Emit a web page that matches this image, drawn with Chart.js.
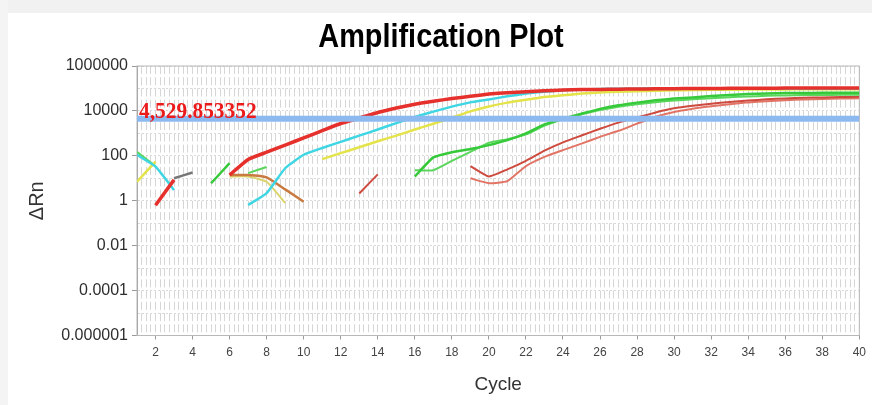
<!DOCTYPE html>
<html>
<head>
<meta charset="utf-8">
<title>Amplification Plot</title>
<script src="https://cdn.jsdelivr.net/npm/chart.js@4/dist/chart.umd.min.js"></script>
<style>
  html, body { margin: 0; padding: 0; background: #ffffff; }
  canvas { display: block; }
</style>
</head>
<body>
<canvas id="plot" width="872" height="405"></canvas>
<script>
// Cycle numbers (x) and ΔRn readings per well (null = no positive reading, left as a gap)
const cycles = [1,2,3,4,5,6,7,8,9,10,11,12,13,14,15,16,17,18,19,20,
                21,22,23,24,25,26,27,28,29,30,31,32,33,34,35,36,37,38,39,40];

const threshold = 4529.853352;

const wellRed = [null,0.63,8.5,null,null,14,69,145,300,630,1320,2750,4800,8500,13500,20000,27000,35500,44700,56000,
                 65000,72000,79000,85000,89000,91000,93000,95000,96500,98000,99000,100000,101000,102000,103000,103500,104000,104500,105000,105000];
const wellCyan = [110,33,3,null,null,null,0.65,2.2,28,112,224,417,794,1480,2880,5370,9330,15500,24000,32400,
                  44700,59000,72000,83000,91000,95000,97000,98000,99000,100000,100000,100000,100000,100000,100000,100000,100000,100000,100000,100000];
const wellYellow = [7,55,null,null,null,null,null,null,null,null,71,132,240,447,794,1480,2690,5000,9550,15800,
                    23400,31600,41700,50000,59000,66000,72000,76000,80000,83000,85000,87000,88000,89000,90000,91000,92000,92000,93000,93000];
const wellGreenA = [null,null,null,null,6,47,null,null,null,null,null,null,null,null,null,12,85,145,200,300,
                    500,1000,2500,4500,7500,12300,17800,23400,29500,35500,40000,46000,51000,56000,60000,62000,63000,64000,65000,65000];
const wellGreenB = [150,35,null,null,null,null,17,32,null,null,null,null,null,null,null,23,23,60,150,380,
                    550,900,2200,4200,7000,11000,15500,20000,24500,29000,33000,37000,41000,44000,47000,49000,50500,51500,52000,52500];
const wellSalmonA = [null,null,null,null,null,null,null,null,null,null,null,null,2.1,15,null,null,null,null,35,12,
                     25,60,170,400,800,1600,3000,5000,8500,13000,17000,21000,25000,29000,33000,36000,38500,40000,41500,42500];
const wellSalmonB = [null,null,null,null,null,null,null,null,null,null,null,null,null,null,null,null,null,null,10,6,
                     7.5,35,90,180,350,700,1300,2700,5500,9000,12500,16000,20000,24000,27000,30000,32000,34000,35500,36500];
const wellBrown = [null,null,null,null,null,14,14,11,3.2,0.9,null,null,null,null,null,null,null,null,null,null,
                   null,null,null,null,null,null,null,null,null,null,null,null,null,null,null,null,null,null,null,null];
const wellPale = [null,null,null,null,null,12,12,7,0.8,null,null,null,null,null,null,null,null,null,null,null,
                  null,null,null,null,null,null,null,null,null,null,null,null,null,null,null,null,null,null,null,null];
const wellGray = [null,null,10,18,null,null,null,null,null,null,null,null,null,null,null,null,null,null,null,null,
                  null,null,null,null,null,null,null,null,null,null,null,null,null,null,null,null,null,null,null,null];

// Axis labels
const xTickValues = [2,4,6,8,10,12,14,16,18,20,22,24,26,28,30,32,34,36,38,40];
const xTickLabels = ['2','4','6','8','10','12','14','16','18','20','22','24','26','28','30','32','34','36','38','40'];
const yTickValues = [0.000001,0.0001,0.01,1,100,10000,1000000];
const yTickLabels = ['0.000001','0.0001','0.01','1','100','10000','1000000'];
const chartTitle = 'Amplification Plot';

const xMin = 1, xMax = 40, yMin = 0.000001, yMax = 1000000;

// grid positions: quarter-cycle verticals, one horizontal per decade
const xGrid = [];
for (let v = xMin; v <= xMax + 1e-9; v += 0.25) xGrid.push(+v.toFixed(2));
const yGrid = [];
for (let e = -6; e <= 6; e++) yGrid.push(Math.pow(10, e));

function pts(values) {
  return cycles.map((c, i) => ({ x: c, y: values[i] }));
}

function curve(values, color, width) {
  return {
    data: pts(values),
    borderColor: color,
    backgroundColor: color,
    borderWidth: width,
    pointRadius: 0,
    tension: 0.15,
    spanGaps: false,
    order: 1
  };
}

const thresholdLabel = threshold.toLocaleString('en-US', { minimumFractionDigits: 6, maximumFractionDigits: 6 });

const decorations = {
  id: 'decorations',
  beforeDraw(chart) {
    const { ctx, width, height } = chart;
    ctx.save();
    ctx.fillStyle = '#ffffff';
    ctx.fillRect(0, 0, width, height);
    ctx.fillStyle = '#f1f1f1';
    ctx.fillRect(0, 0, width, 13);
    ctx.fillStyle = '#f4f4f4';
    ctx.fillRect(0, 0, 8, height);
    // condensed bold title
    ctx.fillStyle = '#000000';
    ctx.font = 'bold 33px "Liberation Sans", Arial, sans-serif';
    ctx.textAlign = 'center';
    ctx.textBaseline = 'alphabetic';
    ctx.translate(441, 47);
    ctx.scale(0.875, 1);
    ctx.fillText(chartTitle, 0, 0);
    ctx.restore();
  },
  beforeDatasetsDraw(chart) {
    const { ctx, chartArea: a } = chart;
    ctx.save();
    ctx.strokeStyle = '#b8b8b8';
    ctx.lineWidth = 1;
    ctx.strokeRect(a.left, a.top, a.right - a.left, a.bottom - a.top);
    ctx.restore();
  },
  afterDatasetsDraw(chart) {
    const { ctx, chartArea: a } = chart;
    const y = chart.scales.y.getPixelForValue(threshold);
    ctx.save();
    ctx.font = 'bold 23px "Liberation Serif", "Times New Roman", serif';
    ctx.fillStyle = '#ec1b1b';
    ctx.textAlign = 'left';
    ctx.textBaseline = 'alphabetic';
    ctx.translate(a.left + 2, y - 1);
    ctx.scale(0.93, 1);
    ctx.fillText(thresholdLabel, 0, 0);
    ctx.restore();
  }
};

new Chart(document.getElementById('plot'), {
  type: 'line',
  data: {
    datasets: [
      {
        data: [{ x: xMin, y: threshold }, { x: xMax, y: threshold }],
        borderColor: '#8cb9ef',
        borderWidth: 6,
        pointRadius: 0,
        order: 0
      },
      curve(wellRed, '#e5302c', 3.5),
      curve(wellCyan, '#3fd6e4', 2.5),
      curve(wellYellow, '#e4e44a', 2.5),
      curve(wellGreenA, '#36c93a', 2.5),
      curve(wellGreenB, '#5ad65c', 2),
      curve(wellSalmonA, '#cf4a3e', 2),
      curve(wellSalmonB, '#e27466', 2),
      curve(wellBrown, '#c97a40', 2.5),
      curve(wellPale, '#dcd46c', 2),
      curve(wellGray, '#767676', 2.5)
    ]
  },
  options: {
    responsive: false,
    animation: false,
    devicePixelRatio: 1,
    events: [],
    layout: { padding: { left: 0, right: 7, top: 66, bottom: 0 } },
    plugins: {
      legend: { display: false },
      tooltip: { enabled: false },
      title: { display: false }
    },
    scales: {
      x: {
        type: 'linear',
        min: xMin,
        max: xMax,
        afterBuildTicks(scale) { scale.ticks = xGrid.map(v => ({ value: v })); },
        afterFit(scale) { scale.height = 69.5; },
        ticks: {
          autoSkip: false,
          maxRotation: 0,
          padding: 6,
          color: '#444444',
          font: { family: '"Liberation Sans", Arial, sans-serif', size: 12 },
          callback(value) {
            const i = xTickValues.findIndex(t => Math.abs(t - value) < 1e-6);
            return i >= 0 ? xTickLabels[i] : '';
          }
        },
        grid: {
          color: '#d6d6d6',
          lineWidth: 1,
          drawTicks: true,
          tickLength: 4,
          tickColor(ctx) {
            const v = ctx.tick ? ctx.tick.value : 0;
            return xTickValues.some(t => Math.abs(t - v) < 1e-6) ? '#9a9a9a' : 'rgba(0,0,0,0)';
          }
        },
        border: { display: true, color: '#9a9a9a', width: 1, dash: [8, 3.23], dashOffset: 0 },
        title: {
          display: true,
          text: 'Cycle',
          color: '#333333',
          font: { family: '"Liberation Sans", Arial, sans-serif', size: 19, lineHeight: 1.2 },
          padding: { top: 4, bottom: 9 }
        }
      },
      y: {
        type: 'logarithmic',
        min: yMin,
        max: yMax,
        afterBuildTicks(scale) { scale.ticks = yGrid.map(v => ({ value: v })); },
        afterFit(scale) { scale.width = 137; },
        ticks: {
          autoSkip: false,
          padding: 4,
          color: '#2e2e2e',
          font: { family: '"Liberation Sans", Arial, sans-serif', size: 16 },
          callback(value) {
            const i = yTickValues.findIndex(t => Math.abs(Math.log10(t) - Math.log10(value)) < 1e-6);
            return i >= 0 ? yTickLabels[i] : '';
          }
        },
        grid: {
          color: '#d9d9d9',
          lineWidth: 1,
          drawTicks: true,
          tickLength: 5,
          tickColor(ctx) {
            const v = ctx.tick ? ctx.tick.value : 1;
            return yTickValues.some(t => Math.abs(Math.log10(t) - Math.log10(v)) < 1e-6) ? '#9a9a9a' : 'rgba(0,0,0,0)';
          }
        },
        border: { display: true, color: '#9a9a9a', width: 1, dash: [2, 2] },
        title: {
          display: true,
          text: 'ΔRn',
          color: '#333333',
          font: { family: '"Liberation Sans", Arial, sans-serif', size: 20, lineHeight: 1.2 },
          padding: { top: 25, bottom: 0 }
        }
      }
    }
  },
  plugins: [decorations]
});
</script>
</body>
</html>
